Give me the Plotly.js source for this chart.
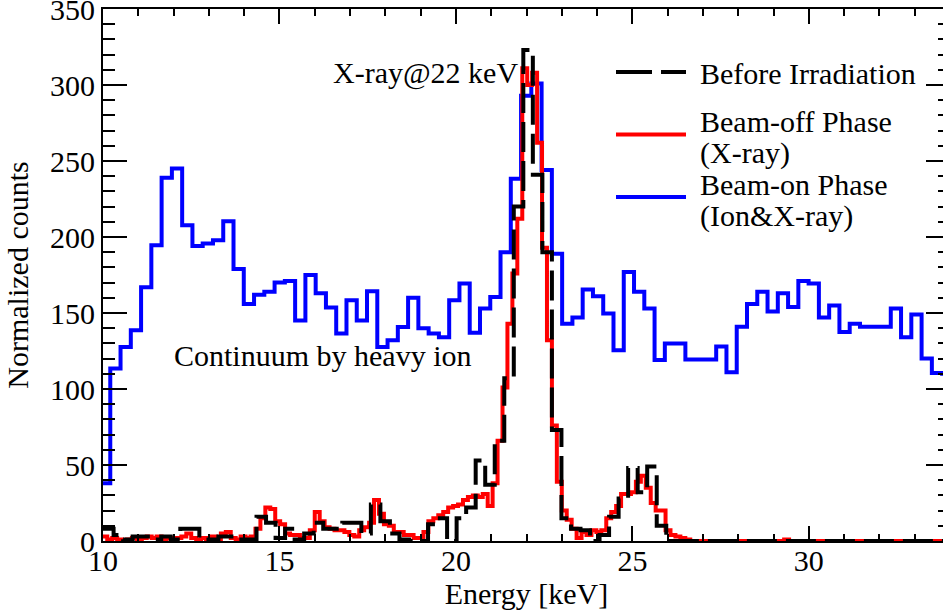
<!DOCTYPE html>
<html><head><meta charset="utf-8">
<script src="https://cdn.plot.ly/plotly-3.0.1.min.js"></script>
<style>html,body{margin:0;padding:0;overflow:hidden;background:#fff}#chart{width:953px;height:611px}</style>
</head><body><div id="chart"></div>
<script>
// Beam-on phase (Ion & X-ray) histogram: bin start, bin width, counts
const blueStart = 9.915, blueWidth = 0.291;
const blueCounts = [38,113.5,127.7,138.7,167,194.5,239,245,207.7,194,
195.7,197.8,210.3,179,156,162,164,170,171,145,
175,163,153.6,136.5,158.4,145,164.3,127.7,132,140.8,
160,140,136.5,134,158.4,169.4,137,153,160.6,190,
238.4,293,301,244,189,143,147,165.5,161,149.6,
125.5,177,164,153,119,130,130,119.4,119.4,119.4,
128,111,141,156,164,151,163,154,171,169.4,
147,155,137.5,143,141,141,141,153,134,149,
120,110.6,110];

// Beam-off phase (X-ray) histogram
const redStart = 9.98, redWidth = 0.14;
const redCounts = [3,1,2,1,0,1,2,1,2,3,
2,3,1,2,1,2,3,5,2,1,
2,1,3,1,5,6,2,1,3,2,
3,8,15,22,21,13,11,5,4,4,
2,2,7,19,13,9,8,7,7,6,
4,3,7,9,12,27,18,11,10,6,
6,4,4,2,2,6,13,15,17,19,
22,23,24,27,29,30,29,31,23,38,
66,101,143,176,212,311,300,308,262,193,
132,76,39,20,14,8,2,6,4,7,
6,7,15,19,23,31,31,32,39,43,
35,25,20,20,7,4,3,2,1,0,
0,0,0,0,0,0,0,0,0,0,
0,0,0,0,0,0,0,0,1,0,
0,0,0,0,0,0,0,0,0,0,
0,0,0,0,0,0,0,0,0,0,
0,0,0,0,0,0,0,0,0,0];

// Before irradiation histogram
const blackStart = 9.76, blackWidth = 0.27;
const blackCounts = [8,
8,4,1,3,3,1,3,1,8,8,
1,1,3,3,1,1,16,12,2,8,
1,5,12,8,8,12,12,5,24,13,
5,1,0,0,11,15,0,15,22,53,
37,66,107,220,323,241,190,73,15,8,
7,0,4,16,28,48,32,49,10,0,
0,0,0,0,0,0,0,0,0,0,
0,0,0,0,0,0,0,0,0,0,
0,0,0,0,0,0,0,0,0];

const seriesNames = ['Before Irradiation', 'Beam-off Phase', '(X-ray)', 'Beam-on Phase', '(Ion&X-ray)'];
const annotationTexts = ['X-ray@22 keV', 'Continuum by heavy ion'];
const xTicks = [10, 15, 20, 25, 30];
const yTicks = [0, 50, 100, 150, 200, 250, 300, 350];
const xRange = [10, 34];
const yRange = [0, 350];

function steps(start, width, counts) {
  const x = [], y = [];
  counts.forEach((c, i) => { x.push(start + width * i); y.push(c); });
  x.push(start + width * counts.length); y.push(counts[counts.length - 1]);
  return {x, y};
}

const B = steps(blueStart, blueWidth, blueCounts);
const R = steps(redStart, redWidth, redCounts);
const K = steps(blackStart, blackWidth, blackCounts);

const traces = [
  {x: B.x, y: B.y, type: 'scatter', mode: 'lines', line: {shape: 'hv', color: '#0000ff', width: 4}, name: 'Beam-on Phase (Ion&X-ray)'},
  {x: R.x, y: R.y, type: 'scatter', mode: 'lines', line: {shape: 'hv', color: '#ff0000', width: 4}, name: 'Beam-off Phase (X-ray)'},
  {x: K.x, y: K.y, type: 'scatter', mode: 'lines', line: {shape: 'hv', color: '#000000', width: 4, dash: '30px,9px'}, name: 'Before Irradiation'}
];

const W = 953, H = 611, ML = 103, MR = 3, MT = 9, MB = 70;
const pw = W - ML - MR, ph = H - MT - MB;
const px = v => (v - ML) / pw;
const py = v => (H - MB - v) / ph;
const FONT = 'Liberation Serif';

function txt(t, x, y) {
  return {text: t, xref: 'paper', yref: 'paper', x: px(x), y: py(y), xanchor: 'left', yanchor: 'middle',
          showarrow: false, font: {family: FONT, size: 30, color: '#000'}, borderpad: 0};
}
function sample(color, dash, y) {
  return {type: 'line', xref: 'paper', yref: 'paper', x0: px(616), x1: px(686), y0: py(y), y1: py(y),
          line: {color: color, width: 4, dash: dash}};
}

const layout = {
  width: W, height: H,
  margin: {l: ML, r: MR, t: MT, b: MB, pad: 0},
  paper_bgcolor: '#fff', plot_bgcolor: '#fff',
  showlegend: false,
  font: {family: FONT, size: 30, color: '#000'},
  xaxis: {
    range: xRange, tickmode: 'array', tickvals: xTicks, ticks: 'inside', ticklen: 15, tickwidth: 2, tickcolor: '#000',
    showline: true, linewidth: 2, linecolor: '#000', mirror: 'allticks', showgrid: false, zeroline: false,
    minor: {tick0: 10, dtick: 1, ticks: 'inside', ticklen: 7, tickwidth: 2, tickcolor: '#000', showgrid: false},
    tickfont: {family: FONT, size: 30}, ticklabelstandoff: -8, ticklabeloverflow: 'allow',
    title: {text: 'Energy [keV]', font: {family: FONT, size: 30}, standoff: 0}
  },
  yaxis: {
    range: yRange, tickmode: 'array', tickvals: yTicks, ticks: 'inside', ticklen: 24, tickwidth: 2, tickcolor: '#000',
    showline: true, linewidth: 2, linecolor: '#000', mirror: 'allticks', showgrid: false, zeroline: false,
    minor: {tick0: 0, dtick: 10, ticks: 'inside', ticklen: 12, tickwidth: 2, tickcolor: '#000', showgrid: false},
    tickfont: {family: FONT, size: 30}, ticklabeloverflow: 'allow',
    title: {text: 'Normalized counts', font: {family: FONT, size: 30}, standoff: 13}
  },
  annotations: [
    txt(annotationTexts[0], 332, 73),
    txt(annotationTexts[1], 173, 355),
    txt(seriesNames[0], 699, 73),
    txt(seriesNames[1], 699, 122),
    txt(seriesNames[2], 699, 153),
    txt(seriesNames[3], 699, 184),
    txt(seriesNames[4], 699, 216)
  ],
  shapes: [
    sample('#000000', '36px,9px', 72),
    sample('#ff0000', 'solid', 134.5),
    sample('#0000ff', 'solid', 197)
  ]
};

Plotly.newPlot('chart', traces, layout, {staticPlot: true, displayModeBar: false});
</script>
</body></html>
